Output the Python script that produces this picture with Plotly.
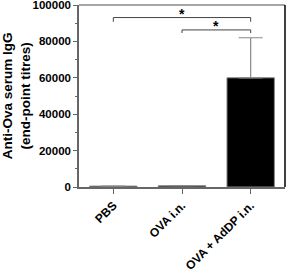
import plotly.graph_objects as go

categories = ["PBS", "OVA i.n.", "OVA + AdDP i.n."]
titres = [500, 700, 60000]
titre_err_plus = [0, 0, 22000]
tick_vals = [0, 20000, 40000, 60000, 80000, 100000]
# significance brackets: (left index, right index, bracket level, drop level)
brackets = [(0, 2, 93100, 90800), (1, 2, 86300, 84600)]
star_levels = [95200, 88600]

fig = go.Figure()
fig.add_trace(go.Bar(
    x=[0, 1, 2], y=titres,
    width=0.69,
    marker=dict(color="black", line=dict(color="#888888", width=1)),
    error_y=dict(type="data", symmetric=False, array=titre_err_plus,
                 arrayminus=[0, 0, 0], color="#888888", thickness=1.2, width=12),
))

for (a, b, top, drop), sy in zip(brackets, star_levels):
    fig.add_shape(type="path", xref="x", yref="y",
                  path=f"M {a},{drop} L {a},{top} L {b},{top} L {b},{drop}",
                  line=dict(color="#444444", width=1))
    fig.add_annotation(x=(a + b) / 2, y=sy, xref="x", yref="y", text="<b>*</b>",
                       showarrow=False, font=dict(size=14, color="black",
                                                  family="Liberation Sans, Arial"))

# box edges
fig.add_shape(type="line", xref="paper", yref="paper", x0=0, x1=1, y0=1, y1=1,
              line=dict(color="#888888", width=1.5))
fig.add_shape(type="line", xref="paper", yref="paper", x0=1, x1=1, y0=0, y1=1,
              line=dict(color="black", width=1.5))

fig.add_annotation(
    xref="paper", yref="paper", x=-0.305, y=0.5, xanchor="center", yanchor="middle",
    text="<b>Anti-Ova serum IgG<br>(end-point titres)</b>", textangle=-90,
    showarrow=False, font=dict(size=13.5, color="black", family="Liberation Sans, Arial"),
)

fig.update_layout(
    width=294, height=272,
    margin=dict(l=79, r=9, t=5, b=85, autoexpand=False),
    paper_bgcolor="white", plot_bgcolor="white",
    showlegend=False,
    font=dict(family="Liberation Sans, Arial", color="black"),
    xaxis=dict(
        range=[-0.5, 2.5], tickvals=[0, 1, 2], ticktext=[f"<b>{c}</b>" for c in categories],
        tickangle=-45, ticks="outside", ticklen=5, tickcolor="#666666",
        showline=True, linecolor="#666666", linewidth=1.5, showgrid=False,
        tickfont=dict(size=12, color="black"), zeroline=False,
        ticklabeloverflow="allow", automargin=False,
    ),
    yaxis=dict(
        range=[0, 100000], tickvals=tick_vals, ticktext=[f"<b>{v}</b>" for v in tick_vals],
        ticks="outside", ticklen=4, tickcolor="#666666",
        showline=True, linecolor="#666666", linewidth=1.5, showgrid=False,
        zeroline=False, tickfont=dict(size=11.5, color="black"),
        ticklabeloverflow="allow", automargin=False,
        minor=dict(tickvals=[10000, 30000, 50000, 70000, 90000], ticks="outside",
                   ticklen=2, tickcolor="#666666"),
    ),
)

fig.write_html("out.html")
